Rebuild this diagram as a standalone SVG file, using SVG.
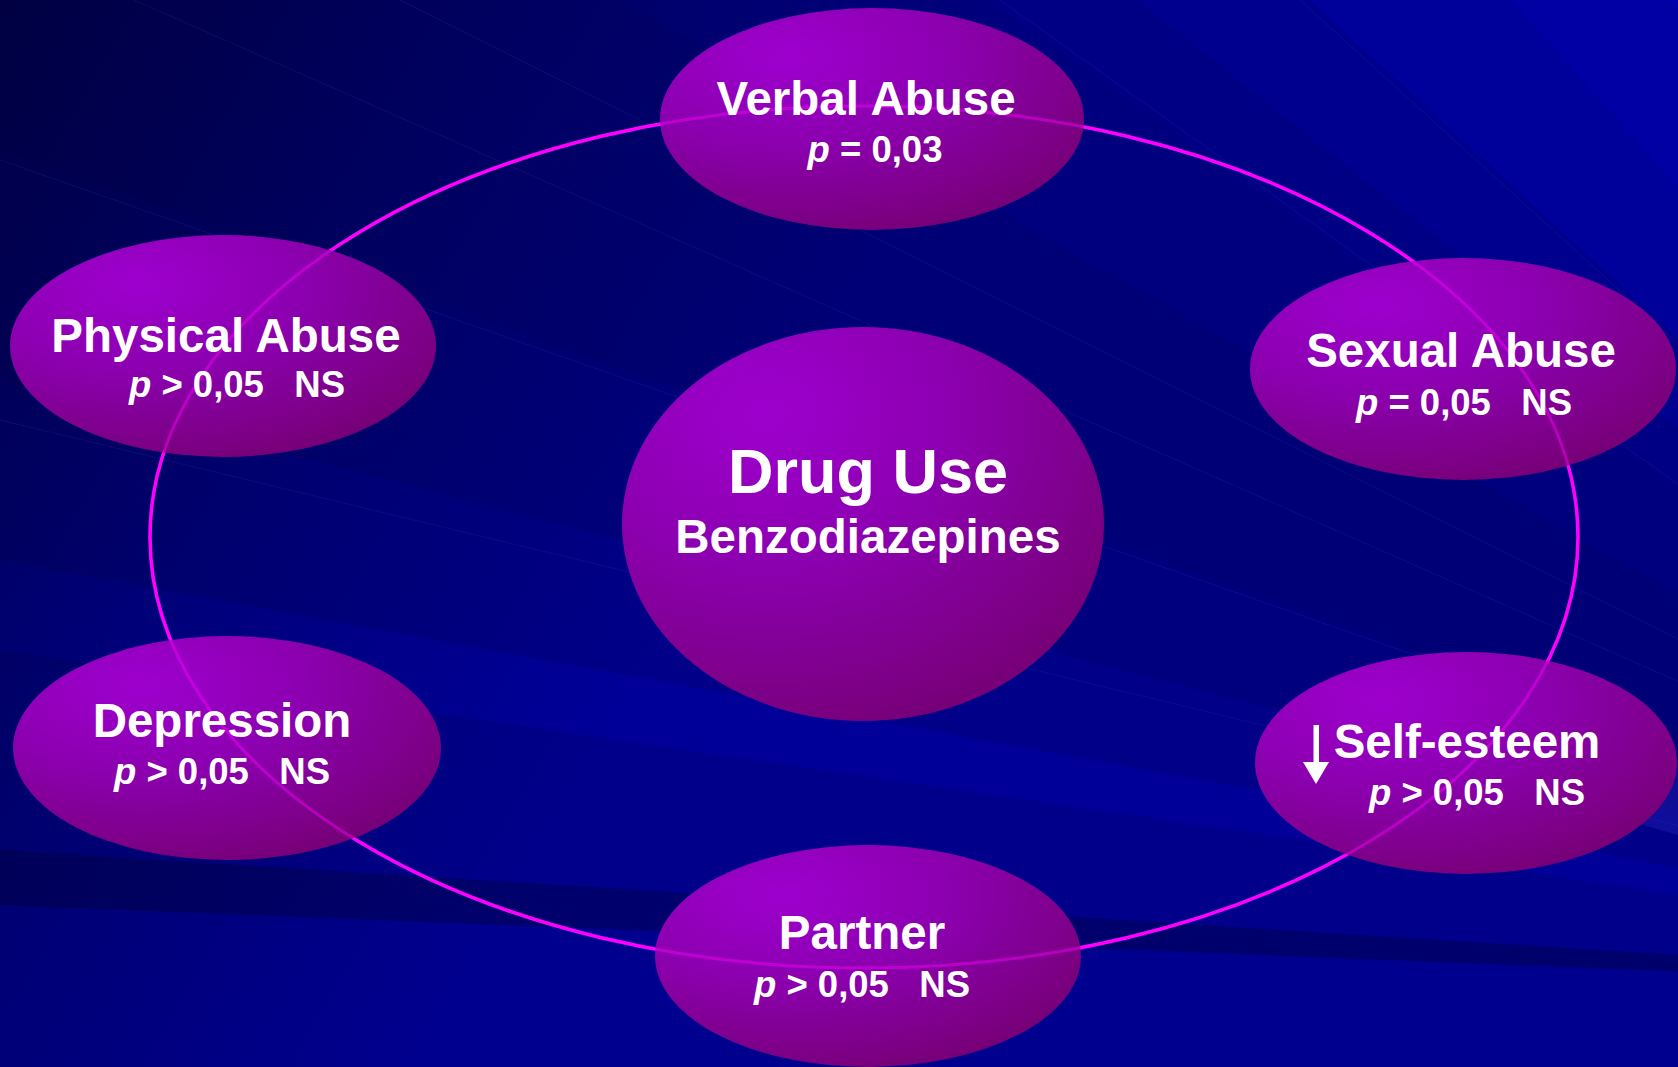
<svg xmlns="http://www.w3.org/2000/svg" width="1678" height="1067" viewBox="0 0 1678 1067">
  <defs>
    <radialGradient id="bubble" cx="0.3" cy="0.22" r="0.85" fx="0.3" fy="0.22">
      <stop offset="0" stop-color="#9E00CE"/>
      <stop offset="0.45" stop-color="#8C00B0"/>
      <stop offset="1" stop-color="#760076"/>
    </radialGradient>
    <linearGradient id="shade" gradientUnits="userSpaceOnUse" x1="0" y1="0" x2="1100" y2="640">
      <stop offset="0" stop-color="#000020" stop-opacity="0.6"/>
      <stop offset="0.35" stop-color="#000020" stop-opacity="0.25"/>
      <stop offset="0.7" stop-color="#000020" stop-opacity="0"/>
    </linearGradient>
    <style>
      .bubble { fill: url(#bubble); }
      .ring { fill: none; stroke: #FF00FF; stroke-width: 3.5; }
      .ring-over { fill: none; stroke: #FF00FF; stroke-width: 3; opacity: 0.45; }
      .t1 { font-family: "Liberation Sans", Arial, sans-serif; font-weight: bold; font-size: 47.5px; fill: #FFFFFF; text-anchor: middle; }
      .t2 { font-family: "Liberation Sans", Arial, sans-serif; font-weight: bold; font-size: 36.5px; fill: #FFFFFF; text-anchor: middle; }
      .big { font-size: 63px; }
      .it { font-style: italic; }
      .streak { stroke: #3434A8; stroke-width: 1; opacity: 0.22; fill: none; }
    </style>
  </defs>

  <!-- background: navy fan of rays spreading from the lower right -->
  <g id="background">
    <rect x="0" y="0" width="1678" height="1067" fill="#00008E"/>
    <polygon points="2400,1000 0,-6000 0,-2300" fill="#0000AE"/>
    <polygon points="2400,1000 0,-2300 0,-1700" fill="#0000A4"/>
    <polygon points="2400,1000 0,-1700 0,-1200" fill="#00009A"/>
    <polygon points="2400,1000 0,-1200 0,-900" fill="#00008E"/>
    <polygon points="2400,1000 0,-900 0,-700" fill="#000084"/>
    <polygon points="2400,1000 0,-700 0,-350" fill="#00007E"/>
    <polygon points="2400,1000 0,-350 0,150" fill="#000076"/>
    <polygon points="2400,1000 0,150 0,380" fill="#00007E"/>
    <polygon points="2400,1000 0,380 0,560" fill="#000088"/>
    <polygon points="2400,1000 0,560 0,650" fill="#000098"/>
    <polygon points="2400,1000 0,650 0,850" fill="#00008A"/>
    <polygon points="2400,1000 0,850 0,905" fill="#00006C"/>
    <polygon points="1678,760 1678,835 1400,755" fill="#1818A8" opacity="0.6"/>
    <rect x="0" y="0" width="1678" height="1067" fill="url(#shade)"/>
    <line class="streak" x1="134" y1="0" x2="2400" y2="1000"/>
    <line class="streak" x1="400" y1="0" x2="2400" y2="1000"/>
    <line class="streak" x1="1000" y1="0" x2="2400" y2="1000"/>
    <line class="streak" x1="0" y1="420" x2="2400" y2="1000"/>
    <line class="streak" x1="0" y1="160" x2="2400" y2="1000"/>
    <line class="streak" x1="1300" y1="0" x2="2400" y2="1000"/>
  </g>

  <!-- ring joining the outer factors -->
  <g id="connectors">
    <ellipse id="ring" class="ring" cx="864" cy="537" rx="714" ry="431"/>
  </g>

  <g id="node-drug-use">
    <ellipse class="bubble" cx="863" cy="524" rx="241" ry="197"/>
    <text class="t1 big" x="868" y="493">Drug Use</text>
    <text class="t1" x="868" y="553">Benzodiazepines</text>
  </g>

  <g id="node-verbal-abuse">
    <ellipse class="bubble" cx="872" cy="119" rx="212" ry="111"/>
  </g>
  <g id="node-physical-abuse">
    <ellipse class="bubble" cx="223" cy="346" rx="213" ry="111"/>
  </g>
  <g id="node-sexual-abuse">
    <ellipse class="bubble" cx="1463" cy="369" rx="213" ry="111"/>
  </g>
  <g id="node-depression">
    <ellipse class="bubble" cx="227" cy="748" rx="214" ry="112"/>
  </g>
  <g id="node-self-esteem">
    <ellipse class="bubble" cx="1466" cy="763" rx="211" ry="111"/>
  </g>
  <g id="node-partner">
    <ellipse class="bubble" cx="868" cy="956" rx="213" ry="111"/>
  </g>

  <!-- ring seen faintly through the translucent bubbles -->
  <g id="connectors-overlay">
    <ellipse class="ring-over" cx="864" cy="537" rx="714" ry="431"/>
  </g>

  <g id="labels">
    <text class="t1" x="866" y="115">Verbal Abuse</text>
    <text class="t2" x="875" y="162" xml:space="preserve"><tspan class="it">p</tspan> = 0,03</text>

    <text class="t1" x="226" y="352">Physical Abuse</text>
    <text class="t2" x="237" y="397" xml:space="preserve"><tspan class="it">p</tspan> &gt; 0,05   NS</text>

    <text class="t1" x="1461" y="367">Sexual Abuse</text>
    <text class="t2" x="1464" y="415" xml:space="preserve"><tspan class="it">p</tspan> = 0,05   NS</text>

    <text class="t1" x="222" y="737">Depression</text>
    <text class="t2" x="222" y="784" xml:space="preserve"><tspan class="it">p</tspan> &gt; 0,05   NS</text>

    <text class="t1" x="1467" y="758">Self-esteem</text>
    <text class="t2" x="1477" y="805" xml:space="preserve"><tspan class="it">p</tspan> &gt; 0,05   NS</text>
    <g id="arrow-down" fill="#FFFFFF">
      <rect x="1313.5" y="725" width="5.5" height="40"/>
      <polygon points="1303,762 1329,762 1316,784"/>
    </g>

    <text class="t1" x="862" y="949">Partner</text>
    <text class="t2" x="862" y="997" xml:space="preserve"><tspan class="it">p</tspan> &gt; 0,05   NS</text>
  </g>
</svg>
